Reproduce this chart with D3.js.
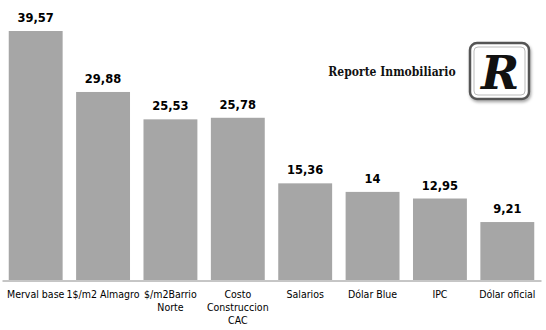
<!DOCTYPE html>
<html>
<head>
<meta charset="utf-8">
<script src="https://cdn.jsdelivr.net/npm/d3@7"></script>
<style>
  html, body { margin: 0; padding: 0; background: #fff; }
  svg { display: block; }
</style>
</head>
<body>
<svg id="chart" width="546" height="330"></svg>
<script>
// Categories (line breaks mark where the axis labels wrap)
const categories = [
  "Merval base",
  "1$/m2 Almagro",
  "$/m2Barrio\nNorte",
  "Costo\nConstruccion\nCAC",
  "Salarios",
  "Dólar Blue",
  "IPC",
  "Dólar oficial"
];
const values = [39.57, 29.88, 25.53, 25.78, 15.36, 14, 12.95, 9.21];
const valueLabels = ["39,57", "29,88", "25,53", "25,78", "15,36", "14", "12,95", "9,21"];

const svg = d3.select("#chart");

const x = d3.scaleBand()
  .domain(categories)
  .range([2, 541])
  .paddingInner(0.2)
  .paddingOuter(0.1);

const y = d3.scaleLinear()
  .domain([0, 39.57])
  .range([280, 31]);

// Bars
svg.append("g").selectAll("rect")
  .data(values)
  .join("rect")
  .attr("x", (d, i) => x(categories[i]))
  .attr("y", d => y(d))
  .attr("width", x.bandwidth())
  .attr("height", d => y(0) - y(d))
  .attr("fill", "#a6a6a6");

// Value labels
svg.append("g").selectAll("text")
  .data(values)
  .join("text")
  .attr("x", (d, i) => x(categories[i]) + x.bandwidth() / 2)
  .attr("y", d => y(d) - 9)
  .attr("text-anchor", "middle")
  .attr("font-family", "DejaVu Sans, sans-serif")
  .attr("font-weight", "bold")
  .attr("font-size", "11.5px")
  .attr("fill", "#000")
  .text((d, i) => valueLabels[i]);

// Category axis
const axis = svg.append("g")
  .attr("transform", `translate(0,${y(0) + 0.5})`)
  .call(d3.axisBottom(x).tickSize(0).tickFormat(""));
axis.select(".domain").attr("stroke", "#8c8c8c").attr("stroke-width", 1);

const labels = svg.append("g")
  .attr("font-family", "DejaVu Sans Condensed, DejaVu Sans, sans-serif")
  .attr("font-size", "10.5px")
  .attr("fill", "#000");
categories.forEach(c => {
  const t = labels.append("text")
    .attr("text-anchor", "middle")
    .attr("x", x(c) + x.bandwidth() / 2)
    .attr("y", 298);
  c.split("\n").forEach((line, j) => {
    t.append("tspan")
      .attr("x", x(c) + x.bandwidth() / 2)
      .attr("dy", j === 0 ? 0 : 13)
      .text(line);
  });
});

// Publisher mark
const logo = svg.append("g");
logo.append("text")
  .attr("x", 392)
  .attr("y", 76)
  .attr("text-anchor", "middle")
  .attr("font-family", "DejaVu Serif Condensed, DejaVu Serif, serif")
  .attr("font-weight", "bold")
  .attr("font-size", "12px")
  .attr("fill", "#111")
  .text("Reporte Inmobiliario");

const defs = svg.append("defs");
const f = defs.append("filter").attr("id", "shadow").attr("x", "-20%").attr("y", "-20%").attr("width", "150%").attr("height", "150%");
f.append("feDropShadow").attr("dx", 1).attr("dy", 2).attr("stdDeviation", 1.5).attr("flood-color", "#000").attr("flood-opacity", 0.35);

logo.append("rect")
  .attr("x", 470).attr("y", 43)
  .attr("width", 59).attr("height", 56)
  .attr("rx", 7)
  .attr("fill", "#fff")
  .attr("stroke", "#555")
  .attr("stroke-width", 2.5)
  .attr("filter", "url(#shadow)");
logo.append("rect")
  .attr("x", 474).attr("y", 47)
  .attr("width", 51).attr("height", 48)
  .attr("rx", 4)
  .attr("fill", "none")
  .attr("stroke", "#bbb")
  .attr("stroke-width", 1);
logo.append("text")
  .attr("x", 500)
  .attr("y", 89)
  .attr("text-anchor", "middle")
  .attr("font-family", "DejaVu Serif, serif")
  .attr("font-weight", "bold")
  .attr("font-style", "italic")
  .attr("font-size", "46px")
  .attr("fill", "#111")
  .text("R");
</script>
</body>
</html>
